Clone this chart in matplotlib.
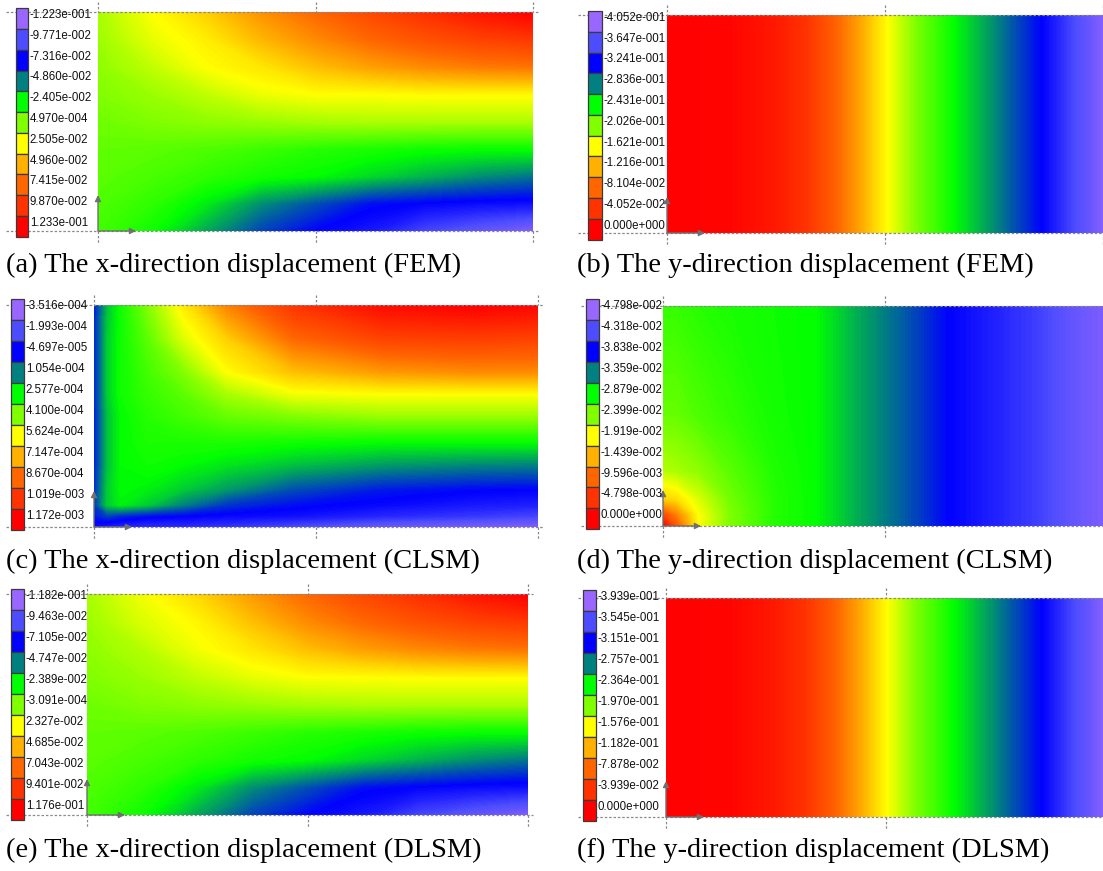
import numpy as np
import matplotlib
matplotlib.use("Agg")
import matplotlib.pyplot as plt
from matplotlib.colors import LinearSegmentedColormap, Normalize
from matplotlib.patches import Rectangle

W, H = 1103, 871

# ---------------- data ----------------
legend_colors = ["#9966ff", "#4d4dff", "#0000ff", "#008080", "#00ff00", "#80ff00",
                 "#ffff00", "#ffb000", "#ff6600", "#ff3300", "#ff0000"]

labels_a = ["-1.223e-001", "-9.771e-002", "-7.316e-002", "-4.860e-002", "-2.405e-002", "4.970e-004",
            "2.505e-002", "4.960e-002", "7.415e-002", "9.870e-002", "1.233e-001"]
labels_b = ["-4.052e-001", "-3.647e-001", "-3.241e-001", "-2.836e-001", "-2.431e-001", "-2.026e-001",
            "-1.621e-001", "-1.216e-001", "-8.104e-002", "-4.052e-002", "0.000e+000"]
labels_c = ["-3.516e-004", "-1.993e-004", "-4.697e-005", "1.054e-004", "2.577e-004", "4.100e-004",
            "5.624e-004", "7.147e-004", "8.670e-004", "1.019e-003", "1.172e-003"]
labels_d = ["-4.798e-002", "-4.318e-002", "-3.838e-002", "-3.359e-002", "-2.879e-002", "-2.399e-002",
            "-1.919e-002", "-1.439e-002", "-9.596e-003", "-4.798e-003", "0.000e+000"]
labels_e = ["-1.182e-001", "-9.463e-002", "-7.105e-002", "-4.747e-002", "-2.389e-002", "-3.091e-004",
            "2.327e-002", "4.685e-002", "7.043e-002", "9.401e-002", "1.176e-001"]
labels_f = ["-3.939e-001", "-3.545e-001", "-3.151e-001", "-2.757e-001", "-2.364e-001", "-1.970e-001",
            "-1.576e-001", "-1.182e-001", "-7.878e-002", "-3.939e-002", "0.000e+000"]

captions = ["(a) The x-direction displacement (FEM)",
            "(b) The y-direction displacement (FEM)",
            "(c) The x-direction displacement (CLSM)",
            "(d) The y-direction displacement (CLSM)",
            "(e) The x-direction displacement (DLSM)",
            "(f) The y-direction displacement (DLSM)"]

# Field colour levels (0 = top legend box ... 10 = bottom legend box)
# rows: bottom -> top, columns: left -> right (normalised field coordinates)
x_a = [0, 0.125, 0.25, 0.375, 0.5, 0.625, 0.75, 0.875, 1.0]
y_a = [0, 0.125, 0.25, 0.375, 0.5, 0.625, 0.75, 0.875, 1.0]
lev_a = [[4.5, 4.1, 3.3, 2.5, 2.0, 1.7, 1.1, 0.7, 0.3],
         [4.6, 4.35, 3.85, 3.1, 2.6, 2.1, 1.95, 1.85, 1.8],
         [4.7, 4.55, 4.35, 4.15, 4.0, 3.7, 3.4, 3.1, 2.9],
         [4.75, 4.7, 4.6, 4.45, 4.3, 4.2, 4.1, 4.05, 4.05],
         [4.85, 5.0, 5.1, 5.2, 5.3, 5.35, 5.35, 5.35, 5.35],
         [5.0, 5.2, 5.5, 5.85, 6.0, 6.0, 6.05, 6.05, 6.05],
         [5.1, 5.5, 6.0, 6.3, 6.8, 7.2, 7.5, 7.7, 7.8],
         [5.2, 5.8, 6.2, 6.9, 7.5, 8.0, 8.4, 8.7, 8.9],
         [5.3, 6.0, 6.6, 7.4, 8.0, 8.6, 9.1, 9.6, 10.0]]

x_b = [0, 0.15, 0.25, 0.32, 0.38, 0.44, 0.5, 0.57, 0.66, 0.76, 0.86, 0.93, 1.0]
y_b = [0, 1.0]
lev_b = [[10, 9.9, 9.5, 9.0, 8.2, 7.2, 6.1, 5.0, 4.0, 3.0, 2.0, 1.1, 0.3],
         [10, 9.9, 9.5, 9.0, 8.2, 7.2, 6.1, 5.0, 4.0, 3.0, 2.0, 1.1, 0.3]]

x_c = [0, 0.03, 0.06, 0.12, 0.2, 0.3, 0.45, 0.65, 0.85, 1.0]
y_c = [0, 0.05, 0.1, 0.17, 0.28, 0.38, 0.5, 0.6, 0.7, 0.85, 1.0]
lev_c = [[1.8, 1.6, 1.5, 1.4, 1.4, 1.3, 1.0, 0.6, 0.4, 0.3],
         [2.2, 2.5, 2.3, 2.1, 2.0, 1.9, 1.8, 1.5, 1.3, 1.1],
         [2.4, 3.6, 3.9, 3.6, 3.0, 2.4, 2.1, 1.9, 1.7, 1.6],
         [2.3, 3.6, 4.0, 3.9, 3.6, 3.2, 2.6, 2.2, 2.05, 2.0],
         [2.2, 3.5, 4.0, 4.1, 4.0, 3.8, 3.5, 3.2, 3.05, 3.0],
         [2.2, 3.5, 4.0, 4.2, 4.2, 4.2, 4.1, 4.0, 4.0, 4.0],
         [2.2, 3.5, 4.0, 4.3, 4.5, 4.8, 5.0, 5.2, 5.2, 5.2],
         [2.2, 3.6, 4.1, 4.4, 4.7, 5.3, 5.9, 6.0, 6.0, 6.0],
         [2.2, 3.6, 4.1, 4.5, 5.0, 6.0, 6.8, 7.3, 7.5, 7.5],
         [2.2, 3.6, 4.1, 4.7, 5.7, 6.6, 8.0, 8.7, 8.8, 8.7],
         [2.2, 3.5, 4.1, 5.0, 6.2, 7.6, 9.0, 9.8, 10.0, 9.9]]

x_d = [0, 0.03, 0.08, 0.15, 0.25, 0.35, 0.45, 0.55, 0.65, 0.75, 0.85, 0.95, 1.0]
y_d = [0, 0.05, 0.12, 0.25, 0.5, 1.0]
lev_d = [[10.0, 8.3, 6.0, 5.0, 4.3, 4.0, 3.3, 2.7, 2.0, 1.6, 1.2, 0.6, 0.4],
         [8.5, 7.6, 6.0, 5.0, 4.3, 4.0, 3.3, 2.7, 2.0, 1.6, 1.2, 0.6, 0.4],
         [6.6, 6.4, 5.7, 4.9, 4.3, 4.0, 3.3, 2.7, 2.0, 1.6, 1.2, 0.6, 0.4],
         [5.4, 5.3, 5.1, 4.7, 4.25, 4.0, 3.3, 2.7, 2.0, 1.6, 1.2, 0.6, 0.4],
         [4.8, 4.8, 4.6, 4.4, 4.15, 4.0, 3.3, 2.7, 2.0, 1.6, 1.2, 0.6, 0.4],
         [4.4, 4.4, 4.3, 4.2, 4.1, 4.0, 3.3, 2.7, 2.0, 1.6, 1.2, 0.6, 0.4]]

x_e = [0, 0.125, 0.25, 0.375, 0.5, 0.625, 0.75, 0.875, 1.0]
y_e = [0, 0.125, 0.25, 0.375, 0.5, 0.625, 0.75, 0.875, 1.0]
lev_e = [[4.5, 4.1, 3.3, 2.5, 2.0, 1.7, 1.1, 0.7, 0.3],
         [4.6, 4.35, 3.85, 3.1, 2.6, 2.1, 1.95, 1.85, 1.8],
         [4.7, 4.55, 4.35, 4.15, 4.0, 3.7, 3.4, 3.1, 2.9],
         [4.75, 4.7, 4.6, 4.45, 4.3, 4.2, 4.1, 4.05, 4.05],
         [4.85, 5.0, 5.1, 5.2, 5.3, 5.35, 5.35, 5.35, 5.35],
         [5.0, 5.2, 5.5, 5.8, 6.0, 6.0, 6.05, 6.05, 6.05],
         [5.1, 5.4, 5.9, 6.3, 6.8, 7.2, 7.5, 7.7, 7.8],
         [5.2, 5.7, 6.1, 6.8, 7.5, 8.0, 8.4, 8.7, 8.9],
         [5.3, 5.9, 6.5, 7.3, 8.0, 8.6, 9.1, 9.6, 10.0]]

x_f = [0, 0.15, 0.25, 0.32, 0.38, 0.44, 0.5, 0.57, 0.66, 0.76, 0.86, 0.93, 1.0]
y_f = [0, 1.0]
lev_f = [[10, 9.9, 9.5, 9.0, 8.2, 7.2, 6.1, 5.0, 4.0, 3.0, 2.0, 1.1, 0.3],
         [10, 9.9, 9.5, 9.0, 8.2, 7.2, 6.1, 5.0, 4.0, 3.0, 2.0, 1.1, 0.3]]

# ---------------- layout (pixels) ----------------
panels = [
    dict(field=(98, 533, 12, 231), leg=(15.7, 28.3, 8.3, 236.7), dash_x=6, model_w=435,
         cap=(6, 265), labels=labels_a, x=x_a, y=y_a, z=lev_a, cap_text=captions[0]),
    dict(field=(667, 1103, 15, 233), leg=(588, 602, 11, 239.5), dash_x=578, model_w=436,
         cap=(577, 265), labels=labels_b, x=x_b, y=y_b, z=lev_b, cap_text=captions[1]),
    dict(field=(94, 538, 305, 527), leg=(10.7, 24.3, 299.3, 530), dash_x=6, model_w=444,
         cap=(6, 561), labels=labels_c, x=x_c, y=y_c, z=lev_c, cap_text=captions[2]),
    dict(field=(663, 1103, 306, 526), leg=(585.7, 599.3, 299.3, 529.3), dash_x=581, model_w=444,
         cap=(577, 561), labels=labels_d, x=x_d, y=y_d, z=lev_d, cap_text=captions[3]),
    dict(field=(87, 528, 594, 815), leg=(10.7, 24.3, 589.3, 820), dash_x=6, model_w=441,
         cap=(6, 850), labels=labels_e, x=x_e, y=y_e, z=lev_e, cap_text=captions[4]),
    dict(field=(666, 1103, 598, 817), leg=(582.7, 596, 590, 820.7), dash_x=578, model_w=440,
         cap=(577, 850), labels=labels_f, x=x_f, y=y_f, z=lev_f, cap_text=captions[5]),
]

cmap = LinearSegmentedColormap.from_list("fem", legend_colors, N=512)
norm = Normalize(0, 10)

fig = plt.figure(figsize=(W / 100, H / 100), dpi=100)
fig.patch.set_facecolor("white")

ov = fig.add_axes([0, 0, 1, 1])
ov.set_xlim(0, W)
ov.set_ylim(H, 0)
ov.axis("off")
ov.set_zorder(5)
ov.patch.set_alpha(0)

dash_style = dict(color="#8a8a8a", lw=0.9, ls=(0, (2, 1.5)))
arrow_col = "#707070"

for p in panels:
    fx0, fx1, fy0, fy1 = p["field"]
    ax = fig.add_axes([fx0 / W, 1 - fy1 / H, (fx1 - fx0) / W, (fy1 - fy0) / H])
    X, Y = np.meshgrid(p["x"], p["y"])
    Z = np.array(p["z"], dtype=float)
    ax.contourf(X, Y, Z, levels=np.linspace(0, 10, 201), cmap=cmap, norm=norm,
                extend="both", antialiased=False)
    ax.set_xlim(0, 1)
    ax.set_ylim(0, 1)
    ax.axis("off")

    # dashed frame lines
    ov.plot([p["dash_x"], fx0 + p["model_w"] + 5], [fy0, fy0], **dash_style)
    ov.plot([p["dash_x"], fx0 + p["model_w"] + 5], [fy1, fy1], **dash_style)
    for xs in (fx0, fx0 + p["model_w"] / 2, fx0 + p["model_w"]):
        ov.plot([xs, xs], [fy0 - 10, fy0], **dash_style)
        ov.plot([xs, xs], [fy1, fy1 + 12], **dash_style)

    # axis triad arrows
    ov.annotate("", xy=(fx0, fy1 - 36), xytext=(fx0, fy1),
                arrowprops=dict(arrowstyle="-|>", color=arrow_col, lw=1.0,
                                mutation_scale=9, shrinkA=0, shrinkB=0))
    ov.annotate("", xy=(fx0 + 38, fy1), xytext=(fx0, fy1),
                arrowprops=dict(arrowstyle="-|>", color=arrow_col, lw=1.0,
                                mutation_scale=9, shrinkA=0, shrinkB=0))

    # legend boxes
    lx0, lx1, ly0, ly1 = p["leg"]
    bh = (ly1 - ly0) / len(legend_colors)
    for i, (col, lab) in enumerate(zip(legend_colors, p["labels"])):
        ov.add_patch(Rectangle((lx0, ly0 + i * bh), lx1 - lx0, bh, facecolor=col,
                               edgecolor="#3a3a3a", lw=0.9, zorder=3))
        ov.text(lx1 + 1.5, ly0 + (i + 0.5) * bh - 3.5, lab, fontsize=8.3,
                family="Liberation Sans", va="center", ha="left", color="#101010", zorder=4)

    # caption
    ov.text(p["cap"][0], p["cap"][1], p["cap_text"], fontsize=20.4, family="Liberation Serif",
            va="center", ha="left", color="black")

fig.savefig("out.png", dpi=100, facecolor="white")
